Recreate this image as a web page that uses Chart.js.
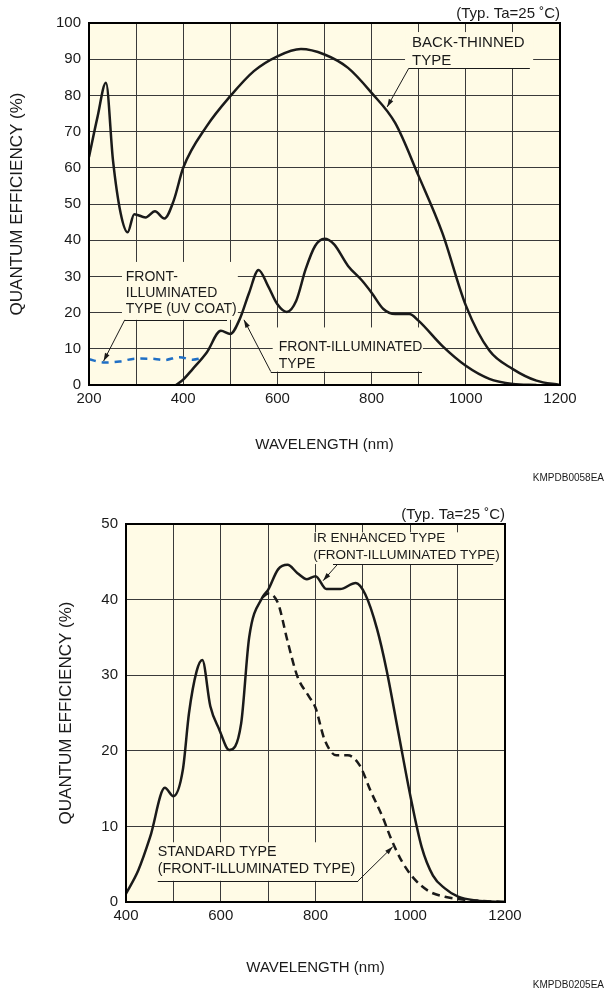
<!DOCTYPE html>
<html lang="en">
<head>
<meta charset="UTF-8" />
<title>Quantum efficiency vs wavelength</title>
<script src="https://cdn.jsdelivr.net/npm/chart.js@4"></script>
<style>
  body { margin: 0; background: #fff; }
  canvas { display: block; }
</style>
</head>
<body>
<canvas id="qeTop" width="606" height="490"></canvas>
<canvas id="qeBottom" width="606" height="507"></canvas>

<script>
// ---- top chart: back-thinned / front-illuminated ----
const wlBack = [200, 218, 236, 251, 267, 282, 296, 320, 340, 360, 380, 400, 450, 500, 550, 600, 650, 700, 750, 800, 850, 900, 950, 1000, 1050, 1100, 1150, 1200];
const qeBack = [63, 74, 83.5, 62, 47.6, 42.2, 47.2, 46.3, 48, 46, 51, 60, 71.5, 79.8, 86.7, 90.8, 92.8, 91.3, 87.6, 80.7, 72.4, 57.7, 42.1, 22, 9.5, 4.4, 1.2, 0];

const wlFront = [385, 400, 420, 450, 480, 500, 520, 540, 560, 580, 600, 620, 640, 660, 680, 700, 720, 750, 780, 800, 825, 850, 880, 900, 950, 1000, 1050, 1100, 1150];
const qeFront = [0, 1.5, 4.4, 9.0, 15.0, 14.1, 18.2, 25.5, 31.8, 27.4, 22.3, 20.2, 23.3, 32, 38.4, 40.4, 38.9, 32.9, 28.8, 25.5, 21, 19.6, 19.6, 17.7, 10.8, 5.3, 1.7, 0.3, 0];

const wlUv = [200, 233, 265, 300, 340, 360, 392, 420, 445];
const qeUv = [7.1, 6.2, 6.5, 7.3, 7.2, 6.9, 7.7, 7.0, 7.6];

// ---- bottom chart: IR enhanced / standard ----
const wlIr = [400, 426, 451, 482, 500, 520, 533, 549, 561, 578, 597, 618, 643, 660, 688, 700, 721, 741, 762, 782, 800, 823, 852, 885, 905, 930, 950, 975, 1001, 1024, 1048, 1073, 1101, 1139, 1200];
const qeIr = [1.1, 4.2, 8.6, 15.1, 14.0, 17.5, 25, 30.5, 32, 25.9, 22.8, 20.1, 23.6, 35, 40.3, 41.3, 44.0, 44.6, 43.5, 42.7, 43.1, 41.4, 41.4, 42.2, 40.7, 36.1, 30.7, 22.4, 13.8, 7.3, 3.5, 1.8, 0.7, 0.2, 0];

const wlStd = [688, 700, 721, 741, 762, 786, 800, 819, 844, 868, 893, 917, 942, 958, 983, 1008, 1040, 1073, 1114, 1200];
const qeStd = [40.3, 40.8, 39.5, 34.5, 29.8, 27.2, 25.7, 21.5, 19.4, 19.4, 18.1, 14.6, 11.2, 8.6, 5.3, 3.1, 1.4, 0.7, 0.3, 0];

const PLOT_BG = '#fffbe6';
const INK = '#1a1a1a';
const FONT = '"Liberation Sans", Arial, sans-serif';

Chart.defaults.font.family = FONT;
Chart.defaults.color = INK;

function pts(xs, ys) {
  return xs.map((v, i) => ({ x: v, y: ys[i] }));
}

// plot background, frame, condition note and drawing code
function frame(code) {
  return {
    id: 'frame',
    beforeDraw(chart) {
      const { ctx, chartArea: a } = chart;
      ctx.save();
      ctx.fillStyle = PLOT_BG;
      ctx.fillRect(a.left, a.top, a.width, a.height);
      ctx.restore();
    },
    afterDraw(chart) {
      const { ctx, chartArea: a } = chart;
      ctx.save();
      ctx.strokeStyle = '#000';
      ctx.lineWidth = 2;
      ctx.strokeRect(a.left, a.top, a.width, a.height);
      ctx.fillStyle = INK;
      ctx.textAlign = 'right';
      ctx.textBaseline = 'alphabetic';
      ctx.font = '15px ' + FONT;
      ctx.fillText('(Typ. Ta=25 \u02DAC)', a.right, a.top - 5);
      ctx.font = '10px ' + FONT;
      ctx.fillText(code, 604, chart.height - 9);
      ctx.restore();
    }
  };
}

// curve labels with a masking box, underline and arrow leader
function notes(items) {
  return {
    id: 'notes',
    beforeDatasetsDraw(chart) {
      const { ctx, scales: { x, y } } = chart;
      ctx.save();
      ctx.fillStyle = PLOT_BG;
      for (const n of items) {
        const l = x.getPixelForValue(n.box[0]), t = y.getPixelForValue(n.box[1]);
        const r = x.getPixelForValue(n.box[2]), b = y.getPixelForValue(n.box[3]);
        ctx.fillRect(l, t, r - l, b - t);
      }
      ctx.restore();
    },
    afterDatasetsDraw(chart) {
      const { ctx, scales: { x, y } } = chart;
      ctx.save();
      ctx.fillStyle = INK;
      ctx.strokeStyle = INK;
      ctx.lineWidth = 1;
      ctx.textBaseline = 'middle';
      for (const n of items) {
        ctx.font = (n.size || 14) + 'px ' + FONT;
        n.lines.forEach((txt, i) => {
          ctx.fillText(txt, x.getPixelForValue(n.textX), y.getPixelForValue(n.textY[i]));
        });
        const uy = Math.round(y.getPixelForValue(n.under[2])) + 0.5;
        ctx.beginPath();
        ctx.moveTo(x.getPixelForValue(n.under[0]), uy);
        ctx.lineTo(x.getPixelForValue(n.under[1]), uy);
        ctx.stroke();
        const x0 = x.getPixelForValue(n.leader[0]), y0 = y.getPixelForValue(n.leader[1]);
        const x1 = x.getPixelForValue(n.leader[2]), y1 = y.getPixelForValue(n.leader[3]);
        ctx.beginPath();
        ctx.moveTo(x0, y0);
        ctx.lineTo(x1, y1);
        ctx.stroke();
        const a = Math.atan2(y1 - y0, x1 - x0);
        const c = Math.cos(a), s = Math.sin(a);
        ctx.beginPath();
        ctx.moveTo(x1, y1);
        ctx.lineTo(x1 - 8 * c + 2.5 * s, y1 - 8 * s - 2.5 * c);
        ctx.lineTo(x1 - 8 * c - 2.5 * s, y1 - 8 * s + 2.5 * c);
        ctx.closePath();
        ctx.fill();
      }
      ctx.restore();
    }
  };
}

function axes(opt) {
  return {
    x: {
      type: 'linear',
      min: opt.xMin, max: 1200,
      afterFit: s => { s.height = opt.xAxisH; },
      grid: { color: '#3a3a3a', lineWidth: 1, drawTicks: false },
      border: { display: false },
      ticks: {
        stepSize: 100, padding: 5,
        font: { size: 15 },
        callback: v => (v % 200 === 0 ? v : '')
      },
      title: {
        display: true, text: 'WAVELENGTH (nm)',
        font: { size: 15, lineHeight: 1.2 },
        padding: { top: 0, bottom: 0 }
      }
    },
    y: {
      min: 0, max: opt.yMax,
      afterFit: s => { s.width = opt.yAxisW; },
      grid: { color: '#3a3a3a', lineWidth: 1, drawTicks: false },
      border: { display: false },
      ticks: { stepSize: 10, padding: 8, font: { size: 15 } },
      title: {
        display: true, text: 'QUANTUM EFFICIENCY (%)',
        font: { size: 17, lineHeight: 1.2 },
        padding: { top: opt.yTitlePad, bottom: 0 }
      }
    }
  };
}

const curve = {
  borderColor: INK,
  borderWidth: 2.5,
  pointRadius: 0,
  fill: false,
  cubicInterpolationMode: 'monotone'
};

new Chart(document.getElementById('qeTop'), {
  type: 'line',
  data: {
    datasets: [
      Object.assign({ label: 'Back-thinned type', data: pts(wlBack, qeBack) }, curve),
      Object.assign({ label: 'Front-illuminated type', data: pts(wlFront, qeFront) }, curve),
      Object.assign({ label: 'Front-illuminated type (UV coat)', data: pts(wlUv, qeUv) }, curve,
        { borderColor: '#1f6fc5', borderDash: [7, 6] })
    ]
  },
  options: {
    responsive: false,
    animation: false,
    layout: { padding: { left: 0, top: 23, right: 46, bottom: 36 } },
    plugins: { legend: { display: false }, tooltip: { enabled: false } },
    scales: axes({ xMin: 200, yMax: 100, xAxisH: 69, yAxisW: 89, yTitlePad: 7 })
  },
  plugins: [
    frame('KMPDB0058EA'),
    notes([
      { lines: ['BACK-THINNED', 'TYPE'], textX: 886, textY: [94.4, 89.6], size: 15,
        box: [871, 97.5, 1143, 87.5], under: [879, 1136, 87.5], leader: [879, 87.5, 833, 76.8] },
      { lines: ['FRONT-', 'ILLUMINATED', 'TYPE (UV COAT)'], textX: 278, textY: [29.9, 25.5, 20.9],
        box: [270, 34, 516, 18], under: [276, 493, 18], leader: [276, 18, 231, 6.6] },
      { lines: ['FRONT-ILLUMINATED', 'TYPE'], textX: 603, textY: [10.4, 5.8],
        box: [590, 15.9, 909, 3.7], under: [586, 907, 3.7], leader: [586, 3.7, 529, 18] }
    ])
  ]
});

new Chart(document.getElementById('qeBottom'), {
  type: 'line',
  data: {
    datasets: [
      Object.assign({ label: 'IR enhanced type', data: pts(wlIr, qeIr) }, curve),
      Object.assign({ label: 'Standard type', data: pts(wlStd, qeStd) }, curve, { borderDash: [8, 5] })
    ]
  },
  options: {
    responsive: false,
    animation: false,
    layout: { padding: { left: 0, top: 34, right: 101, bottom: 20 } },
    plugins: { legend: { display: false }, tooltip: { enabled: false } },
    scales: axes({ xMin: 400, yMax: 50, xAxisH: 75, yAxisW: 126, yTitlePad: 56 })
  },
  plugins: [
    frame('KMPDB0205EA'),
    notes([
      { lines: ['IR ENHANCED TYPE', '(FRONT-ILLUMINATED TYPE)'], textX: 795, textY: [48.1, 45.8], size: 13.5,
        box: [790, 48.9, 1200, 44.7], under: [837, 1175, 44.7], leader: [847, 44.7, 816, 42.5] },
      { lines: ['STANDARD TYPE', '(FRONT-ILLUMINATED TYPE)'], textX: 467, textY: [6.6, 4.4], size: 14.3,
        box: [461, 7.9, 894, 2.8], under: [467, 890, 2.8], leader: [890, 2.8, 963, 7.3] }
    ])
  ]
});
</script>
</body>
</html>
